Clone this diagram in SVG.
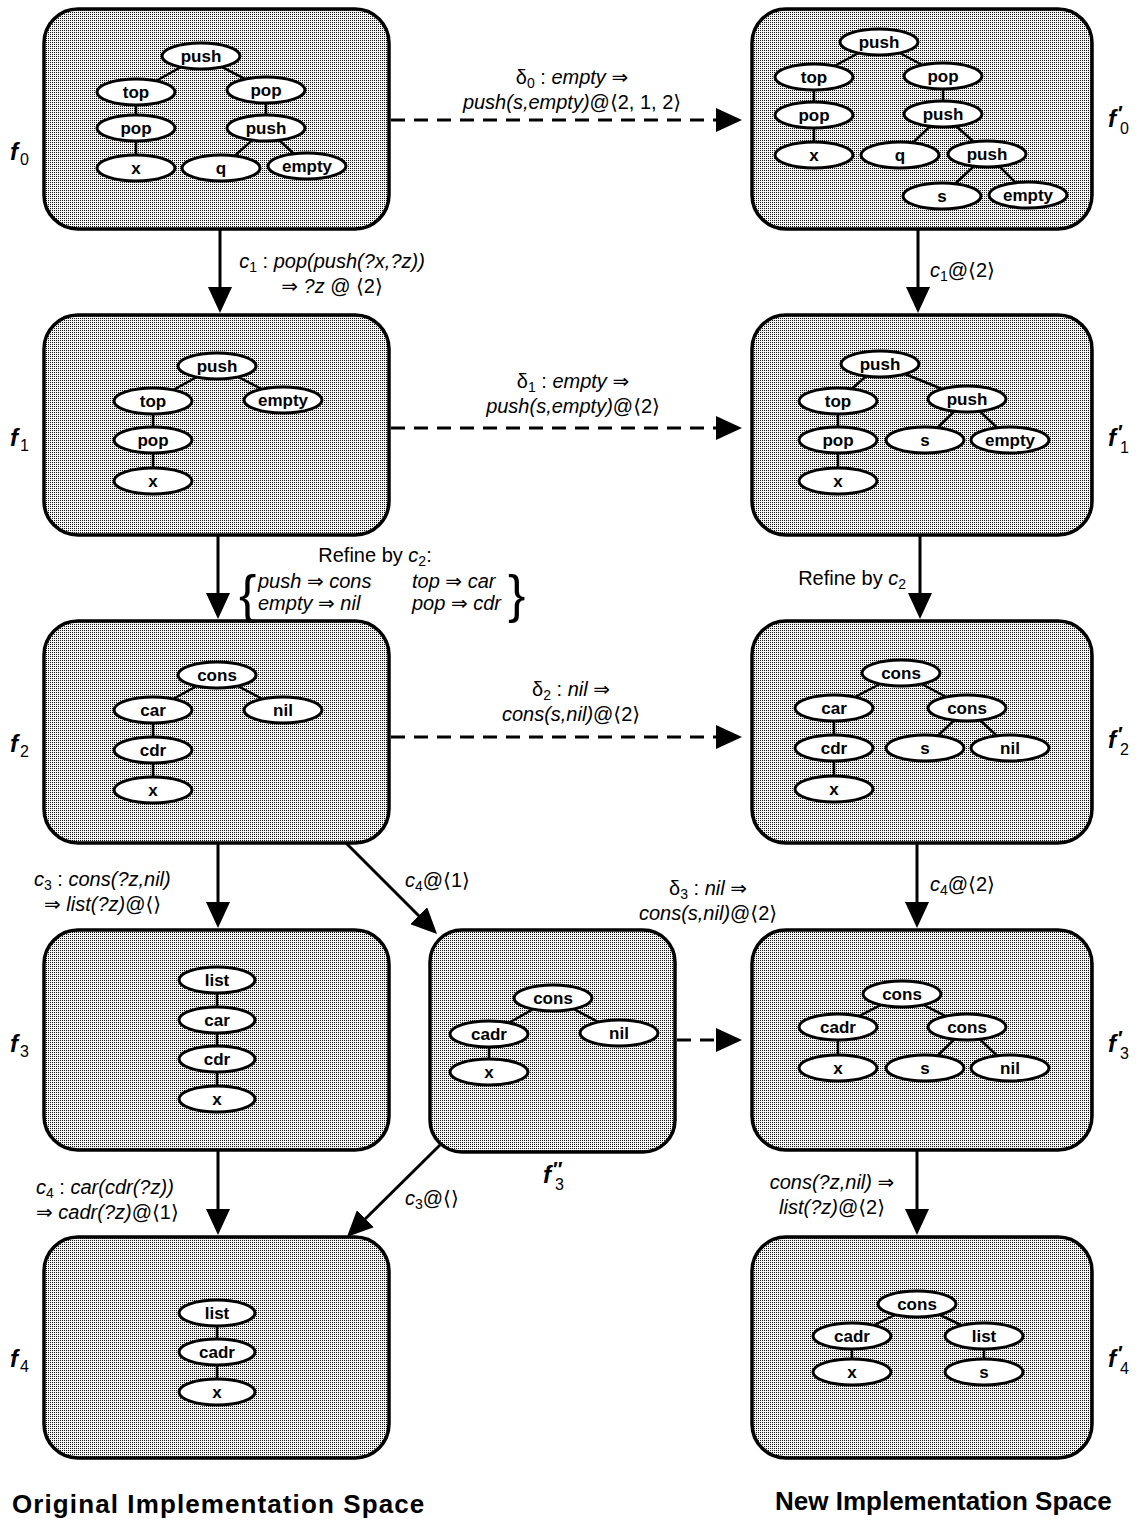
<svg xmlns="http://www.w3.org/2000/svg" width="1144" height="1524" viewBox="0 0 1144 1524">
<defs>
<pattern id="dots" width="2" height="2" patternUnits="userSpaceOnUse"><rect width="2" height="2" fill="#f4f4f4"/><rect width="1" height="1" fill="#111"/></pattern>
<marker id="ah" markerUnits="userSpaceOnUse" markerWidth="28" markerHeight="24" refX="16" refY="12" orient="auto"><path d="M0,0 L26,12 L0,24 Z" fill="#000"/></marker>
<style>
.box{fill:url(#dots);stroke:#000;stroke-width:3.5}
.n ellipse{fill:#fff;stroke:#000;stroke-width:3}
.n text{font-family:"Liberation Sans",Arial,sans-serif;font-weight:bold;font-size:17px;text-anchor:middle}
.e line{stroke:#000;stroke-width:2.5}
.conn line{stroke:#000;stroke-width:3;fill:none;marker-end:url(#ah)}
.conn line.d{stroke-dasharray:14 9}
.lbl{font-family:"Liberation Sans","DejaVu Sans",sans-serif;font-size:20px;fill:#000}
.i{font-style:italic}
.mid{text-anchor:middle}
.end{text-anchor:end}
.fl{font-family:"Liberation Sans",Arial,sans-serif;font-size:24px;font-weight:bold;font-style:italic}
.fs{font-family:"Liberation Sans",Arial,sans-serif;font-size:16px}
.fp{font-family:"Liberation Sans","DejaVu Sans",sans-serif;font-size:20px;font-weight:bold}
.title{font-family:"Liberation Sans",Arial,sans-serif;font-size:26px;font-weight:bold}
</style>
</defs>
<rect width="1144" height="1524" fill="#fff"/>

<!-- f0 -->
<g id="f0">
<rect class="box" x="44" y="9" width="345" height="220" rx="34"/>
<g class="e"><line x1="201" y1="56" x2="136" y2="92"/><line x1="201" y1="56" x2="266" y2="90"/><line x1="136" y1="92" x2="136" y2="168"/><line x1="266" y1="90" x2="266" y2="128"/><line x1="266" y1="128" x2="221" y2="168"/><line x1="266" y1="128" x2="307" y2="166"/></g>
<g class="n"><ellipse cx="201" cy="56" rx="39" ry="13"/><text x="201" y="62">push</text></g>
<g class="n"><ellipse cx="136" cy="92" rx="39" ry="13"/><text x="136" y="98">top</text></g>
<g class="n"><ellipse cx="266" cy="90" rx="39" ry="13"/><text x="266" y="96">pop</text></g>
<g class="n"><ellipse cx="136" cy="128" rx="39" ry="13"/><text x="136" y="134">pop</text></g>
<g class="n"><ellipse cx="266" cy="128" rx="39" ry="13"/><text x="266" y="134">push</text></g>
<g class="n"><ellipse cx="136" cy="168" rx="39" ry="13"/><text x="136" y="174">x</text></g>
<g class="n"><ellipse cx="221" cy="168" rx="39" ry="13"/><text x="221" y="174">q</text></g>
<g class="n"><ellipse cx="307" cy="166" rx="39" ry="13"/><text x="307" y="172">empty</text></g>
</g>

<!-- f0' -->
<g id="f0p">
<rect class="box" x="752" y="9" width="340" height="220" rx="34"/>
<g class="e"><line x1="879" y1="42" x2="814" y2="77"/><line x1="879" y1="42" x2="943" y2="76"/><line x1="814" y1="77" x2="814" y2="155"/><line x1="943" y1="76" x2="943" y2="114"/><line x1="943" y1="114" x2="900" y2="155"/><line x1="943" y1="114" x2="987" y2="154"/><line x1="987" y1="154" x2="942" y2="196"/><line x1="987" y1="154" x2="1028" y2="195"/></g>
<g class="n"><ellipse cx="879" cy="42" rx="39" ry="13"/><text x="879" y="48">push</text></g>
<g class="n"><ellipse cx="814" cy="77" rx="39" ry="13"/><text x="814" y="83">top</text></g>
<g class="n"><ellipse cx="943" cy="76" rx="39" ry="13"/><text x="943" y="82">pop</text></g>
<g class="n"><ellipse cx="814" cy="115" rx="39" ry="13"/><text x="814" y="121">pop</text></g>
<g class="n"><ellipse cx="943" cy="114" rx="39" ry="13"/><text x="943" y="120">push</text></g>
<g class="n"><ellipse cx="814" cy="155" rx="39" ry="13"/><text x="814" y="161">x</text></g>
<g class="n"><ellipse cx="900" cy="155" rx="39" ry="13"/><text x="900" y="161">q</text></g>
<g class="n"><ellipse cx="987" cy="154" rx="39" ry="13"/><text x="987" y="160">push</text></g>
<g class="n"><ellipse cx="942" cy="196" rx="39" ry="13"/><text x="942" y="202">s</text></g>
<g class="n"><ellipse cx="1028" cy="195" rx="39" ry="13"/><text x="1028" y="201">empty</text></g>
</g>

<!-- f1 -->
<g id="f1">
<rect class="box" x="44" y="315" width="345" height="220" rx="34"/>
<g class="e"><line x1="217" y1="366" x2="153" y2="401"/><line x1="217" y1="366" x2="283" y2="400"/><line x1="153" y1="401" x2="153" y2="481"/></g>
<g class="n"><ellipse cx="217" cy="366" rx="39" ry="13"/><text x="217" y="372">push</text></g>
<g class="n"><ellipse cx="153" cy="401" rx="39" ry="13"/><text x="153" y="407">top</text></g>
<g class="n"><ellipse cx="283" cy="400" rx="39" ry="13"/><text x="283" y="406">empty</text></g>
<g class="n"><ellipse cx="153" cy="440" rx="39" ry="13"/><text x="153" y="446">pop</text></g>
<g class="n"><ellipse cx="153" cy="481" rx="39" ry="13"/><text x="153" y="487">x</text></g>
</g>

<!-- f1' -->
<g id="f1p">
<rect class="box" x="752" y="315" width="340" height="220" rx="34"/>
<g class="e"><line x1="880" y1="364" x2="838" y2="401"/><line x1="880" y1="364" x2="967" y2="399"/><line x1="838" y1="401" x2="838" y2="481"/><line x1="967" y1="399" x2="925" y2="440"/><line x1="967" y1="399" x2="1010" y2="440"/></g>
<g class="n"><ellipse cx="880" cy="364" rx="39" ry="13"/><text x="880" y="370">push</text></g>
<g class="n"><ellipse cx="838" cy="401" rx="39" ry="13"/><text x="838" y="407">top</text></g>
<g class="n"><ellipse cx="967" cy="399" rx="39" ry="13"/><text x="967" y="405">push</text></g>
<g class="n"><ellipse cx="838" cy="440" rx="39" ry="13"/><text x="838" y="446">pop</text></g>
<g class="n"><ellipse cx="925" cy="440" rx="39" ry="13"/><text x="925" y="446">s</text></g>
<g class="n"><ellipse cx="1010" cy="440" rx="39" ry="13"/><text x="1010" y="446">empty</text></g>
<g class="n"><ellipse cx="838" cy="481" rx="39" ry="13"/><text x="838" y="487">x</text></g>
</g>

<!-- f2 -->
<g id="f2">
<rect class="box" x="44" y="621" width="345" height="222" rx="34"/>
<g class="e"><line x1="217" y1="675" x2="153" y2="710"/><line x1="217" y1="675" x2="283" y2="710"/><line x1="153" y1="710" x2="153" y2="790"/></g>
<g class="n"><ellipse cx="217" cy="675" rx="39" ry="13"/><text x="217" y="681">cons</text></g>
<g class="n"><ellipse cx="153" cy="710" rx="39" ry="13"/><text x="153" y="716">car</text></g>
<g class="n"><ellipse cx="283" cy="710" rx="39" ry="13"/><text x="283" y="716">nil</text></g>
<g class="n"><ellipse cx="153" cy="750" rx="39" ry="13"/><text x="153" y="756">cdr</text></g>
<g class="n"><ellipse cx="153" cy="790" rx="39" ry="13"/><text x="153" y="796">x</text></g>
</g>

<!-- f2' -->
<g id="f2p">
<rect class="box" x="752" y="621" width="340" height="222" rx="34"/>
<g class="e"><line x1="901" y1="673" x2="834" y2="708"/><line x1="901" y1="673" x2="967" y2="708"/><line x1="834" y1="708" x2="834" y2="789"/><line x1="967" y1="708" x2="925" y2="748"/><line x1="967" y1="708" x2="1010" y2="748"/></g>
<g class="n"><ellipse cx="901" cy="673" rx="39" ry="13"/><text x="901" y="679">cons</text></g>
<g class="n"><ellipse cx="834" cy="708" rx="39" ry="13"/><text x="834" y="714">car</text></g>
<g class="n"><ellipse cx="967" cy="708" rx="39" ry="13"/><text x="967" y="714">cons</text></g>
<g class="n"><ellipse cx="834" cy="748" rx="39" ry="13"/><text x="834" y="754">cdr</text></g>
<g class="n"><ellipse cx="925" cy="748" rx="39" ry="13"/><text x="925" y="754">s</text></g>
<g class="n"><ellipse cx="1010" cy="748" rx="39" ry="13"/><text x="1010" y="754">nil</text></g>
<g class="n"><ellipse cx="834" cy="789" rx="39" ry="13"/><text x="834" y="795">x</text></g>
</g>

<!-- f3 -->
<g id="f3">
<rect class="box" x="44" y="930" width="345" height="220" rx="34"/>
<g class="e"><line x1="217" y1="980" x2="217" y2="1099"/></g>
<g class="n"><ellipse cx="217" cy="980" rx="38" ry="13"/><text x="217" y="986">list</text></g>
<g class="n"><ellipse cx="217" cy="1020" rx="38" ry="13"/><text x="217" y="1026">car</text></g>
<g class="n"><ellipse cx="217" cy="1059" rx="38" ry="13"/><text x="217" y="1065">cdr</text></g>
<g class="n"><ellipse cx="217" cy="1099" rx="38" ry="13"/><text x="217" y="1105">x</text></g>
</g>

<!-- f3'' -->
<g id="f3pp">
<rect class="box" x="430" y="930" width="245" height="222" rx="32"/>
<g class="e"><line x1="553" y1="998" x2="489" y2="1034"/><line x1="553" y1="998" x2="619" y2="1033"/><line x1="489" y1="1034" x2="489" y2="1072"/></g>
<g class="n"><ellipse cx="553" cy="998" rx="39" ry="13"/><text x="553" y="1004">cons</text></g>
<g class="n"><ellipse cx="489" cy="1034" rx="39" ry="13"/><text x="489" y="1040">cadr</text></g>
<g class="n"><ellipse cx="619" cy="1033" rx="39" ry="13"/><text x="619" y="1039">nil</text></g>
<g class="n"><ellipse cx="489" cy="1072" rx="39" ry="13"/><text x="489" y="1078">x</text></g>
</g>

<!-- f3' -->
<g id="f3p">
<rect class="box" x="752" y="930" width="340" height="220" rx="34"/>
<g class="e"><line x1="902" y1="994" x2="838" y2="1027"/><line x1="902" y1="994" x2="967" y2="1027"/><line x1="838" y1="1027" x2="838" y2="1068"/><line x1="967" y1="1027" x2="925" y2="1068"/><line x1="967" y1="1027" x2="1010" y2="1068"/></g>
<g class="n"><ellipse cx="902" cy="994" rx="39" ry="13"/><text x="902" y="1000">cons</text></g>
<g class="n"><ellipse cx="838" cy="1027" rx="39" ry="13"/><text x="838" y="1033">cadr</text></g>
<g class="n"><ellipse cx="967" cy="1027" rx="39" ry="13"/><text x="967" y="1033">cons</text></g>
<g class="n"><ellipse cx="838" cy="1068" rx="39" ry="13"/><text x="838" y="1074">x</text></g>
<g class="n"><ellipse cx="925" cy="1068" rx="39" ry="13"/><text x="925" y="1074">s</text></g>
<g class="n"><ellipse cx="1010" cy="1068" rx="39" ry="13"/><text x="1010" y="1074">nil</text></g>
</g>

<!-- f4 -->
<g id="f4">
<rect class="box" x="44" y="1237" width="345" height="221" rx="34"/>
<g class="e"><line x1="217" y1="1313" x2="217" y2="1392"/></g>
<g class="n"><ellipse cx="217" cy="1313" rx="38" ry="13"/><text x="217" y="1319">list</text></g>
<g class="n"><ellipse cx="217" cy="1352" rx="38" ry="13"/><text x="217" y="1358">cadr</text></g>
<g class="n"><ellipse cx="217" cy="1392" rx="38" ry="13"/><text x="217" y="1398">x</text></g>
</g>

<!-- f4' -->
<g id="f4p">
<rect class="box" x="752" y="1237" width="340" height="221" rx="34"/>
<g class="e"><line x1="917" y1="1304" x2="852" y2="1336"/><line x1="917" y1="1304" x2="984" y2="1336"/><line x1="852" y1="1336" x2="852" y2="1372"/><line x1="984" y1="1336" x2="984" y2="1372"/></g>
<g class="n"><ellipse cx="917" cy="1304" rx="39" ry="13"/><text x="917" y="1310">cons</text></g>
<g class="n"><ellipse cx="852" cy="1336" rx="39" ry="13"/><text x="852" y="1342">cadr</text></g>
<g class="n"><ellipse cx="984" cy="1336" rx="39" ry="13"/><text x="984" y="1342">list</text></g>
<g class="n"><ellipse cx="852" cy="1372" rx="39" ry="13"/><text x="852" y="1378">x</text></g>
<g class="n"><ellipse cx="984" cy="1372" rx="39" ry="13"/><text x="984" y="1378">s</text></g>
</g>

<!-- connectors -->
<g id="connectors" class="conn">
<line x1="220" y1="229" x2="220" y2="303"/>
<line x1="218" y1="535" x2="218" y2="609"/>
<line x1="218" y1="843" x2="218" y2="918"/>
<line x1="218" y1="1150" x2="218" y2="1225"/>
<line x1="918" y1="229" x2="918" y2="303"/>
<line x1="920" y1="535" x2="920" y2="609"/>
<line x1="917" y1="843" x2="917" y2="918"/>
<line x1="917" y1="1150" x2="917" y2="1225"/>
<line x1="346" y1="843" x2="430" y2="927"/>
<line x1="440" y1="1145" x2="354" y2="1230"/>
<line class="d" x1="391" y1="120" x2="732" y2="120"/>
<line class="d" x1="391" y1="428" x2="732" y2="428"/>
<line class="d" x1="391" y1="737" x2="732" y2="737"/>
<line class="d" x1="677" y1="1040" x2="732" y2="1040"/>
</g>

<!-- connector labels -->
<g id="labels" class="lbl">
<text class="mid" x="572" y="84">δ<tspan font-size="14" dy="4">0</tspan><tspan dy="-4"> : </tspan><tspan class="i">empty</tspan> ⇒</text>
<text class="mid" x="572" y="109"><tspan class="i">push(s,empty)</tspan>@⟨2, 1, 2⟩</text>

<text class="mid" x="332" y="268"><tspan class="i">c</tspan><tspan font-size="14" dy="4">1</tspan><tspan dy="-4"> : </tspan><tspan class="i">pop(push(?x,?z))</tspan></text>
<text class="mid" x="332" y="293">⇒ <tspan class="i">?z</tspan> @ ⟨2⟩</text>

<text x="930" y="277"><tspan class="i">c</tspan><tspan font-size="14" dy="4">1</tspan><tspan dy="-4">@⟨2⟩</tspan></text>

<text class="mid" x="573" y="388">δ<tspan font-size="14" dy="4">1</tspan><tspan dy="-4"> : </tspan><tspan class="i">empty</tspan> ⇒</text>
<text class="mid" x="573" y="413"><tspan class="i">push(s,empty)</tspan>@⟨2⟩</text>

<text class="mid" x="375" y="562">Refine by <tspan class="i">c</tspan><tspan font-size="14" dy="4">2</tspan><tspan dy="-4">:</tspan></text>
<text x="239" y="612" font-size="52">{</text>
<text x="258" y="588" class="i">push ⇒ cons</text>
<text x="412" y="588" class="i">top ⇒ car</text>
<text x="258" y="610" class="i">empty ⇒ nil</text>
<text x="412" y="610" class="i">pop ⇒ cdr</text>
<text x="508" y="612" font-size="52">}</text>

<text class="end" x="906" y="585">Refine by <tspan class="i">c</tspan><tspan font-size="14" dy="4">2</tspan></text>

<text class="mid" x="571" y="696">δ<tspan font-size="14" dy="4">2</tspan><tspan dy="-4"> : </tspan><tspan class="i">nil</tspan> ⇒</text>
<text class="mid" x="571" y="721"><tspan class="i">cons(s,nil)</tspan>@⟨2⟩</text>

<text x="34" y="886"><tspan class="i">c</tspan><tspan font-size="14" dy="4">3</tspan><tspan dy="-4"> : </tspan><tspan class="i">cons(?z,nil)</tspan></text>
<text x="44" y="911">⇒ <tspan class="i">list(?z)</tspan>@⟨⟩</text>

<text x="405" y="887"><tspan class="i">c</tspan><tspan font-size="14" dy="4">4</tspan><tspan dy="-4">@⟨1⟩</tspan></text>

<text class="mid" x="708" y="895">δ<tspan font-size="14" dy="4">3</tspan><tspan dy="-4"> : </tspan><tspan class="i">nil</tspan> ⇒</text>
<text class="mid" x="708" y="920"><tspan class="i">cons(s,nil)</tspan>@⟨2⟩</text>

<text x="930" y="891"><tspan class="i">c</tspan><tspan font-size="14" dy="4">4</tspan><tspan dy="-4">@⟨2⟩</tspan></text>

<text x="36" y="1194"><tspan class="i">c</tspan><tspan font-size="14" dy="4">4</tspan><tspan dy="-4"> : </tspan><tspan class="i">car(cdr(?z))</tspan></text>
<text x="36" y="1219">⇒ <tspan class="i">cadr(?z)</tspan>@⟨1⟩</text>

<text x="405" y="1205"><tspan class="i">c</tspan><tspan font-size="14" dy="4">3</tspan><tspan dy="-4">@⟨⟩</tspan></text>

<text class="mid" x="832" y="1189"><tspan class="i">cons(?z,nil)</tspan> ⇒</text>
<text class="mid" x="832" y="1214"><tspan class="i">list(?z)</tspan>@⟨2⟩</text>
</g>

<!-- box names -->
<g id="names">
<text class="fl" x="10" y="160">f</text><text class="fs" x="20" y="165">0</text>
<text class="fl" x="1108" y="127">f</text><text class="fp" x="1118" y="120">′</text><text class="fs" x="1120" y="134">0</text>
<text class="fl" x="10" y="446">f</text><text class="fs" x="20" y="451">1</text>
<text class="fl" x="1108" y="446">f</text><text class="fp" x="1118" y="439">′</text><text class="fs" x="1120" y="453">1</text>
<text class="fl" x="10" y="752">f</text><text class="fs" x="20" y="757">2</text>
<text class="fl" x="1108" y="748">f</text><text class="fp" x="1118" y="741">′</text><text class="fs" x="1120" y="755">2</text>
<text class="fl" x="10" y="1052">f</text><text class="fs" x="20" y="1057">3</text>
<text class="fl" x="1108" y="1052">f</text><text class="fp" x="1118" y="1045">′</text><text class="fs" x="1120" y="1059">3</text>
<text class="fl" x="10" y="1367">f</text><text class="fs" x="20" y="1372">4</text>
<text class="fl" x="1108" y="1367">f</text><text class="fp" x="1118" y="1360">′</text><text class="fs" x="1120" y="1374">4</text>
<text class="fl" x="543" y="1183">f</text><text class="fp" x="553" y="1176">″</text><text class="fs" x="555" y="1190">3</text>
</g>

<g id="titles" class="title">
<text x="12" y="1513" letter-spacing="1.1">Original Implementation Space</text>
<text x="775" y="1510">New Implementation Space</text>
</g>
</svg>
